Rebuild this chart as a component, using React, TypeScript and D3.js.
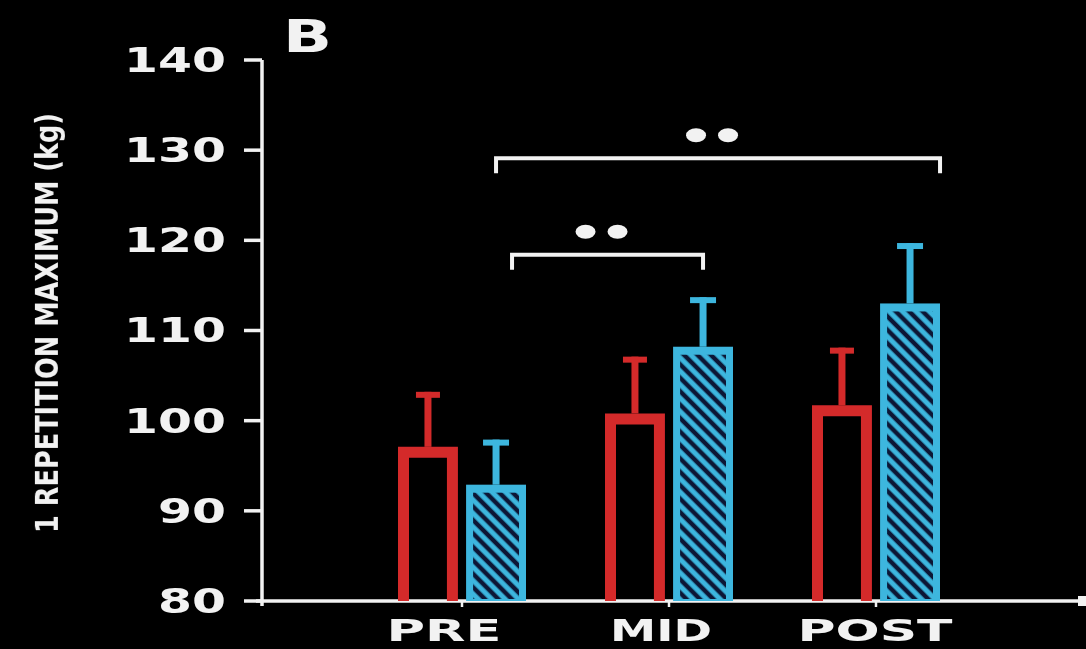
import React from "react";
import * as d3 from "d3";

const categories = ["PRE", "MID", "POST"];
const seriesNames = ["control", "training"];
const controlMeans = [97.1, 100.8, 101.7];
const controlErr = [103.2, 107.1, 108.1];
const trainingMeans = [92.9, 108.2, 113.0];
const trainingErr = [97.9, 113.7, 119.7];
const yTicks = [80, 90, 100, 110, 120, 130, 140];
const yTitle = "1 REPETITION MAXIMUM (kg)";
const panelLetter = "B";
const brackets = [
  { from: "PRE", to: "POST", level: 129.1, label: "**" },
  { from: "PRE", to: "MID", level: 118.4, label: "**" },
];

const W = 1086;
const H = 649;
const RED = "#d42a2c";
const BLUE = "#3cb6de";
const WHITE = "#f2f2f2";

export default function App() {
  const y = d3.scaleLinear().domain([80, 140]).range([601, 60]);
  const x = d3.scalePoint<string>().domain(categories).range([462, 876]);
  const sub = d3.scaleBand<string>().domain(seriesNames).range([-64, 64]).paddingInner(0.12);
  const bw = sub.bandwidth();
  const axisX = 262;
  const base = y(80);

  const labelLen: Record<string, number> = { PRE: 115, MID: 102, POST: 155 };
  const labelNudge: Record<string, number> = { PRE: -18, MID: -8, POST: -1 };
  const bracketNudge = [
    { l: 0, r: 30 },
    { l: 16, r: 0 },
  ];

  return (
    <svg width={W} height={H} style={{ position: "absolute", left: 0, top: 0, background: "#000" }}>
      <defs>
        <pattern id="hatch" width="12" height="9.5" patternUnits="userSpaceOnUse" patternTransform="rotate(45)">
          <line x1="-1" y1="4.75" x2="13" y2="4.75" stroke="#0b1836" strokeWidth="4.5" />
        </pattern>
        <filter id="soft">
          <feGaussianBlur stdDeviation="0.6" />
        </filter>
      </defs>
      <rect x={0} y={0} width={W} height={H} fill="#000" />
      <g filter="url(#soft)">
        {/* Y axis */}
        <line x1={axisX} x2={axisX} y1={y(140)} y2={base + 5} stroke={WHITE} strokeWidth={3.5} />
        {yTicks.map((t) => (
          <g key={t}>
            <line x1={axisX - 18} x2={axisX} y1={y(t)} y2={y(t)} stroke={WHITE} strokeWidth={3.5} />
            <text
              x={226}
              y={y(t)}
              dy="0.36em"
              textAnchor="end"
              fill={WHITE}
              fontFamily="DejaVu Sans"
              fontWeight="bold"
              fontSize={33}
              textLength={String(t).length * 34}
              lengthAdjust="spacingAndGlyphs"
            >
              {t}
            </text>
          </g>
        ))}
        {/* X axis */}
        <line x1={axisX - 6} x2={W} y1={base} y2={base} stroke={WHITE} strokeWidth={3.5} />
        <rect x={1078} y={base - 5} width={10} height={10} fill={WHITE} />
        {categories.map((c) => (
          <g key={c}>
            <line x1={x(c)!} x2={x(c)!} y1={base} y2={base + 6} stroke={WHITE} strokeWidth={2.5} />
            <text
              x={x(c)! + labelNudge[c]}
              y={641}
              textAnchor="middle"
              fill={WHITE}
              fontFamily="DejaVu Sans"
              fontWeight="bold"
              fontSize={30}
              textLength={labelLen[c]}
              lengthAdjust="spacingAndGlyphs"
            >
              {c}
            </text>
          </g>
        ))}

        {/* Bars */}
        {categories.map((c, i) => {
          const rx = x(c)! + sub("control")!;
          const bx = x(c)! + sub("training")!;
          const sw = 11;
          const rTop = y(controlMeans[i]);
          const bTop = y(trainingMeans[i]);
          const rc = rx + bw / 2;
          const bc = bx + bw / 2;
          return (
            <g key={c}>
              <line x1={rc} x2={rc} y1={rTop} y2={y(controlErr[i])} stroke={RED} strokeWidth={7} />
              <line x1={rc - 12} x2={rc + 12} y1={y(controlErr[i]) + 3} y2={y(controlErr[i]) + 3} stroke={RED} strokeWidth={6} />
              <path
                d={`M${rx + sw / 2},${base} V${rTop + sw / 2} H${rx + bw - sw / 2} V${base}`}
                fill="none"
                stroke={RED}
                strokeWidth={sw}
              />
              <line x1={bc} x2={bc} y1={bTop} y2={y(trainingErr[i])} stroke={BLUE} strokeWidth={7} />
              <line x1={bc - 13} x2={bc + 13} y1={y(trainingErr[i]) + 3} y2={y(trainingErr[i]) + 3} stroke={BLUE} strokeWidth={6} />
              <rect x={bx} y={bTop} width={bw} height={base - bTop} fill={BLUE} />
              <rect x={bx + 7} y={bTop + 8} width={bw - 14} height={base - bTop - 10} fill="url(#hatch)" />
            </g>
          );
        })}

        {/* Significance brackets */}
        {brackets.map((b, k) => {
          const x1 = x(b.from)! + sub("training")! + bw / 2 + bracketNudge[k].l;
          const x2 = x(b.to)! + sub("training")! + bw / 2 + bracketNudge[k].r;
          const by = y(b.level);
          const mid = (x1 + x2) / 2 - 6;
          return (
            <g key={k}>
              <path d={`M${x1},${by + 15} V${by} H${x2} V${by + 15}`} fill="none" stroke={WHITE} strokeWidth={4} />
              <ellipse cx={mid - 16} cy={by - 23} rx={10} ry={7} fill={WHITE} />
              <ellipse cx={mid + 16} cy={by - 23} rx={10} ry={7} fill={WHITE} />
            </g>
          );
        })}

        {/* Y title */}
        <g transform="translate(46,323) rotate(-90) scale(1,1.3)">
          <text
            textAnchor="middle"
            dy="0.36em"
            fill={WHITE}
            fontFamily="DejaVu Sans"
            fontWeight="bold"
            fontSize={25}
            textLength={420}
            lengthAdjust="spacingAndGlyphs"
          >
            {yTitle}
          </text>
        </g>

        {/* Panel letter */}
        <text
          x={283}
          y={52}
          fill={WHITE}
          fontFamily="DejaVu Sans"
          fontWeight="bold"
          fontSize={44}
          textLength={49}
          lengthAdjust="spacingAndGlyphs"
        >
          {panelLetter}
        </text>
      </g>
    </svg>
  );
}
